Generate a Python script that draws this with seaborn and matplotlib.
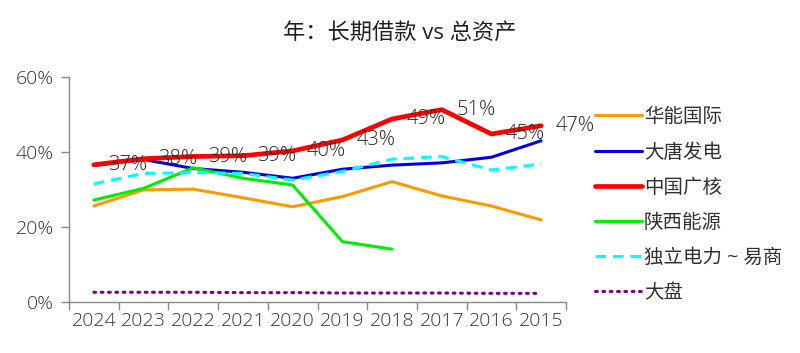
import matplotlib
matplotlib.use("Agg")
import matplotlib.pyplot as plt
import seaborn as sns
import pandas as pd
import numpy as np
from matplotlib.ticker import FuncFormatter

years = ["2024", "2023", "2022", "2021", "2020", "2019", "2018", "2017", "2016", "2015"]
huaneng = [25.6, 29.9, 30.1, 27.8, 25.4, 28.1, 32.1, 28.3, 25.6, 21.9]
datang = [36.4, 38.0, 35.6, 34.6, 33.0, 35.4, 36.5, 37.1, 38.6, 43.0]
cgn = [36.6, 38.2, 38.8, 39.0, 40.3, 43.2, 48.8, 51.3, 44.8, 47.0]
shaanxi = [27.2, 30.3, 35.8, 33.0, 31.2, 16.1, 14.1, np.nan, np.nan, np.nan]
duli = [31.5, 34.3, 34.5, 34.3, 32.5, 34.8, 38.1, 38.8, 35.2, 36.8]
dapan = [2.6, 2.6, 2.6, 2.5, 2.5, 2.4, 2.4, 2.4, 2.3, 2.3]
cgn_labels = ["37%", "38%", "39%", "39%", "40%", "43%", "49%", "51%", "45%", "47%"]

series_names = ["华能国际", "大唐发电", "中国广核", "陕西能源", "独立电力 ~ 易商", "大盘"]
series_vals = [huaneng, datang, cgn, shaanxi, duli, dapan]
colors = ["#FF9900", "#0000E0", "#FF0000", "#00EE00", "#00FFFF", "#800080"]
widths = [2.2, 2.2, 3.4, 2.2, 2.2, 2.2]
styles = ["-", "-", "-", "-", (0, (3.5, 2.2)), (0, (0.6, 1.8))]

sns.set_theme(style="white")
plt.rcParams["font.family"] = ["Open Sans", "Noto Sans CJK SC", "DejaVu Sans"]

fig = plt.figure(figsize=(8, 3.53), dpi=100)
ax = fig.add_axes([69 / 800, 1 - 302 / 353, (566 - 69) / 800, (302 - 77) / 353])

for name, vals, c, lw, ls in zip(series_names, series_vals, colors, widths, styles):
    df = pd.DataFrame({"year": years, "value": vals})
    sns.lineplot(data=df, x="year", y="value", ax=ax, color=c, linewidth=lw,
                 label=name, sort=False)
    ln = ax.get_lines()[-1]
    ln.set_linestyle(ls)
    if ls != "-":
        ln.set_dash_capstyle("round" if name == "大盘" else "butt")

for i, (v, lab) in enumerate(zip(cgn, cgn_labels)):
    ax.annotate(lab, (i, v), xytext=(24.5, 0), textcoords="offset points",
                ha="center", va="center", fontsize=14.5, color="#262626",
                fontweight="light")

ax.set_xlim(-0.5, 9.5)
ax.set_ylim(0, 60)
ax.set_yticks([0, 20, 40, 60])
ax.yaxis.set_major_formatter(FuncFormatter(lambda v, p: f"{v:.0f}%"))
ax.set_xticks(np.arange(-0.5, 10, 1), minor=False)
ax.set_xticklabels([])
ax.set_xticks(np.arange(10), minor=True)
ax.set_xticklabels(years, minor=True)
ax.tick_params(axis="x", which="major", length=6, width=1, color="#888888", direction="out", bottom=True)
ax.tick_params(axis="x", which="minor", length=0, labelsize=14, labelcolor="#333333", pad=7)
ax.tick_params(axis="y", length=6, width=1, color="#888888", direction="out", left=True,
               labelsize=14, labelcolor="#333333", pad=5)
for t in ax.get_xticklabels(minor=True) + ax.get_yticklabels():
    t.set_fontweight("light")
ax.set_xlabel("")
ax.set_ylabel("")
for s in ["top", "right"]:
    ax.spines[s].set_visible(False)
for s in ["left", "bottom"]:
    ax.spines[s].set_color("#888888")
    ax.spines[s].set_linewidth(1)
ax.grid(False)

handles, labels = ax.get_legend_handles_labels()
leg = ax.legend(handles, labels, loc="upper left", bbox_to_anchor=(595 / 800, 1 - 108 / 353),
                bbox_transform=fig.transFigure, frameon=False, fontsize=14,
                handlelength=2.4, handletextpad=0.12, labelspacing=0.86, borderaxespad=0,
                borderpad=0)
for t in leg.get_texts():
    t.set_color("#303030")

fig.text(0.5, 1 - 34 / 353, "年：长期借款 vs 总资产", ha="center", va="center",
         fontsize=16, color="#202020")

fig.savefig("out.png", dpi=100)
